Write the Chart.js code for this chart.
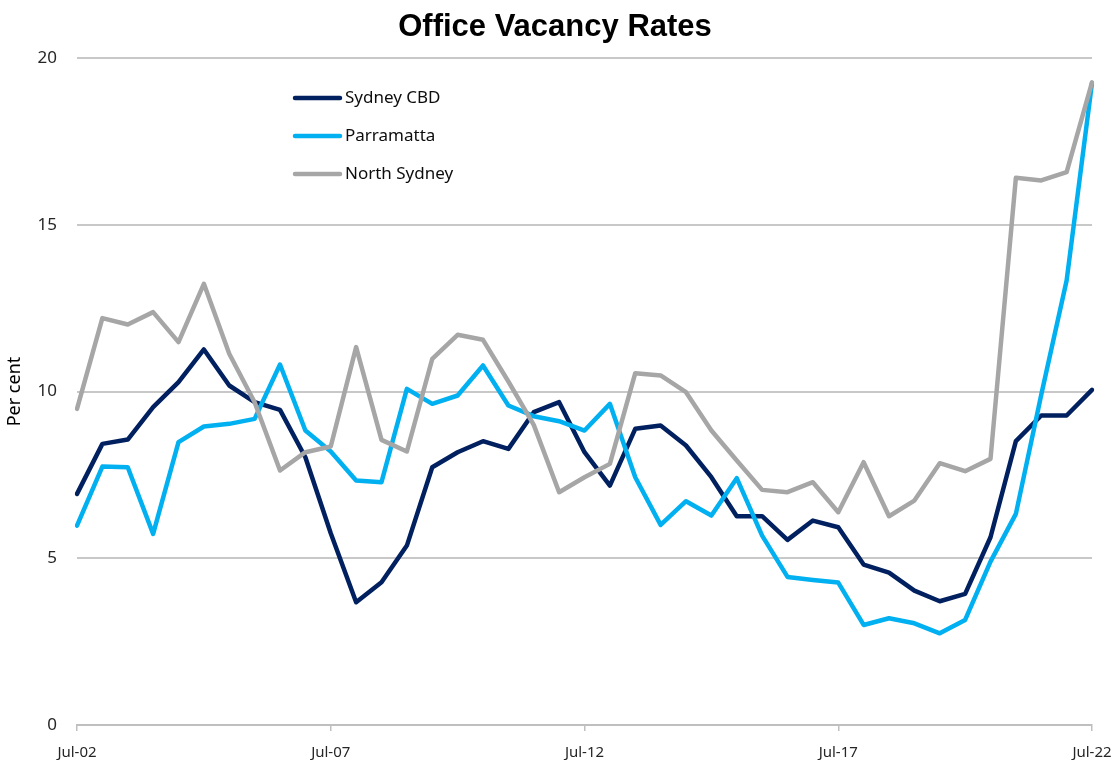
<!DOCTYPE html>
<html>
<head>
<meta charset="utf-8">
<script src="https://cdn.jsdelivr.net/npm/chart.js@4/dist/chart.umd.min.js"></script>
<style>
  html, body { margin: 0; padding: 0; background: #ffffff; }
  #wrap { width: 1120px; height: 760px; }
</style>
</head>
<body>
<div id="wrap"><canvas id="c" width="1120" height="760"></canvas></div>
<script>
const categories = [
  "Jul-02","Jan-03","Jul-03","Jan-04","Jul-04","Jan-05","Jul-05","Jan-06","Jul-06","Jan-07",
  "Jul-07","Jan-08","Jul-08","Jan-09","Jul-09","Jan-10","Jul-10","Jan-11","Jul-11","Jan-12",
  "Jul-12","Jan-13","Jul-13","Jan-14","Jul-14","Jan-15","Jul-15","Jan-16","Jul-16","Jan-17",
  "Jul-17","Jan-18","Jul-18","Jan-19","Jul-19","Jan-20","Jul-20","Jan-21","Jul-21","Jan-22",
  "Jul-22"
];
const sydneyCBD = [
  6.93, 8.43, 8.56, 9.53, 10.28, 11.26, 10.18, 9.68, 9.45, 8.03,
  5.75, 3.68, 4.28, 5.38, 7.73, 8.18, 8.51, 8.28, 9.38, 9.68,
  8.18, 7.18, 8.88, 8.98, 8.38, 7.43, 6.26, 6.26, 5.55, 6.13,
  5.93, 4.81, 4.57, 4.03, 3.71, 3.93, 5.63, 8.51, 9.28, 9.28,
  10.05
];
const parramatta = [
  5.98, 7.75, 7.73, 5.73, 8.48, 8.95, 9.03, 9.18, 10.81, 8.83,
  8.20, 7.33, 7.28, 10.08, 9.63, 9.88, 10.78, 9.58, 9.26, 9.11,
  8.83, 9.63, 7.43, 6.00, 6.71, 6.28, 7.40, 5.68, 4.44, 4.35,
  4.27, 3.00, 3.20, 3.05, 2.75, 3.15, 4.90, 6.33, 9.90, 13.33,
  19.25
];
const northSydney = [
  9.48, 12.20, 12.01, 12.38, 11.48, 13.23, 11.13, 9.68, 7.63, 8.18,
  8.35, 11.33, 8.55, 8.20, 10.98, 11.70, 11.55, 10.30, 9.00, 6.98,
  7.43, 7.83, 10.55, 10.48, 9.98, 8.83, 7.93, 7.05, 6.98, 7.28,
  6.38, 7.88, 6.26, 6.73, 7.85, 7.61, 7.98, 16.41, 16.33, 16.58,
  19.27
];
const seriesNames = ["Sydney CBD", "Parramatta", "North Sydney"];
const seriesColors = ["#002060", "#00B0F0", "#A6A6A6"];
const yTicks = [0, 5, 10, 15, 20];
const titleText = "Office Vacancy Rates";
const yTitle = "Per cent";
const labelEvery = 10;

const legendPlugin = {
  id: 'innerLegend',
  afterDatasetsDraw(chart) {
    const ctx = chart.ctx;
    const x0 = 295, x1 = 340, tx = 345, y0 = 98, dy = 38;
    ctx.save();
    chart.data.datasets.forEach((ds, i) => {
      const y = y0 + i * dy;
      ctx.strokeStyle = ds.borderColor;
      ctx.lineWidth = 4.5;
      ctx.lineCap = 'round';
      ctx.beginPath();
      ctx.moveTo(x0, y);
      ctx.lineTo(x1, y);
      ctx.stroke();
      ctx.fillStyle = '#0d0d0d';
      ctx.font = '17px "Noto Sans"';
      ctx.textBaseline = 'middle';
      ctx.textAlign = 'left';
      ctx.fillText(ds.label, tx, y);
    });
    ctx.restore();
  }
};

const series = [sydneyCBD, parramatta, northSydney];
const datasets = series.map((arr, i) => ({
  label: seriesNames[i],
  data: arr,
  borderColor: seriesColors[i],
  backgroundColor: seriesColors[i],
  borderWidth: 4.5,
  pointRadius: 0,
  pointHoverRadius: 0,
  tension: 0,
  fill: false,
  borderJoinStyle: 'round',
  borderCapStyle: 'round',
  order: 3 - i
}));

new Chart(document.getElementById('c'), {
  type: 'line',
  data: { labels: categories, datasets: datasets },
  plugins: [legendPlugin],
  options: {
    responsive: false,
    animation: false,
    devicePixelRatio: 1,
    layout: { padding: { left: 18, right: 28, top: 0, bottom: 0 } },
    plugins: {
      legend: { display: false },
      tooltip: { enabled: false },
      title: {
        display: true,
        text: titleText,
        color: '#000000',
        font: { family: '"Liberation Sans", Arial, sans-serif', size: 31, weight: 'bold' },
        padding: { top: 8.5, bottom: 12.3 }
      }
    },
    scales: {
      x: {
        type: 'category',
        offset: false,
        border: { display: true, color: '#bfbfbf', width: 2 },
        grid: {
          display: true,
          drawOnChartArea: false,
          drawTicks: true,
          tickLength: 6,
          color: '#bfbfbf',
          lineWidth: 1.5
        },
        ticks: {
          autoSkip: false,
          maxRotation: 0,
          minRotation: 0,
          padding: 13,
          color: '#262626',
          font: { family: '"Noto Sans", sans-serif', size: 15 },
          callback: function(value, index) {
            return index % labelEvery === 0 ? categories[index] : null;
          }
        },
        afterFit(scale) {
          scale.height = 35;
          scale.paddingLeft = 0;
          scale.paddingRight = 0;
        }
      },
      y: {
        min: yTicks[0],
        max: yTicks[yTicks.length - 1],
        border: { display: false },
        grid: {
          color: '#c8c8c8',
          lineWidth: 2,
          drawTicks: false
        },
        afterBuildTicks(scale) {
          scale.ticks = yTicks.map(v => ({ value: v }));
        },
        ticks: {
          padding: 20,
          color: '#262626',
          font: { family: '"Noto Sans", sans-serif', size: 17 }
        },
        title: {
          display: true,
          text: yTitle,
          color: '#000000',
          font: { family: '"Noto Sans", sans-serif', size: 18 },
          padding: { top: -14, bottom: 0 }
        },
        afterFit(scale) { scale.width = 59; }
      }
    }
  }
});
</script>
</body>
</html>
